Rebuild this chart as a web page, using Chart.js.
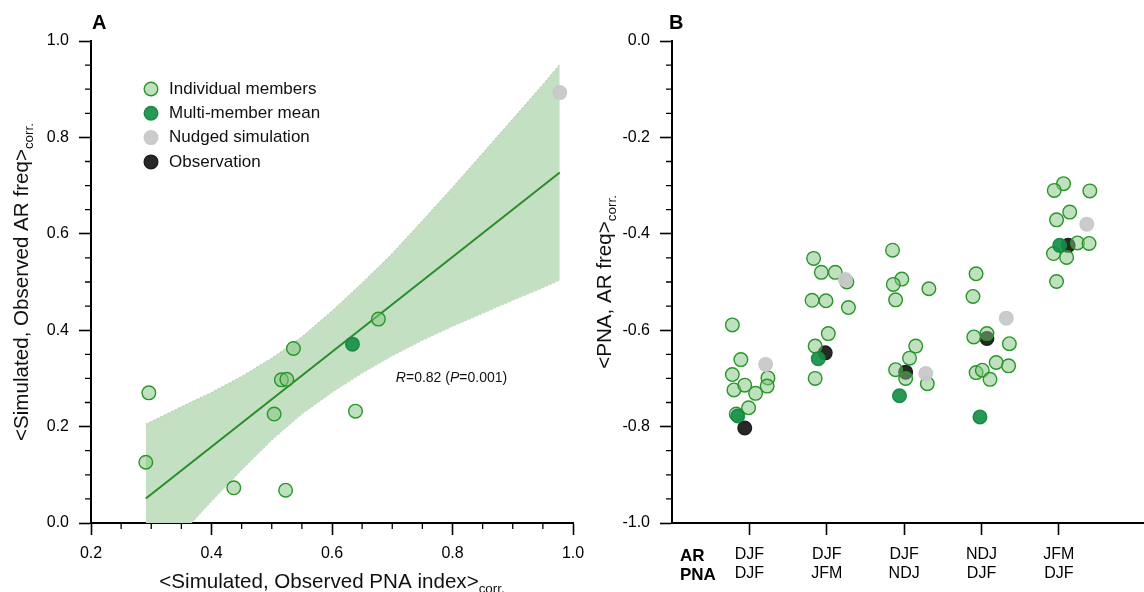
<!DOCTYPE html>
<html lang="en">
<head>
<meta charset="UTF-8">
<title>AR frequency vs PNA correlation</title>
<script src="https://cdn.jsdelivr.net/npm/chart.js"></script>
<style>
    body { margin: 0; background: #fff; }
    #wrap { position: relative; width: 1144px; height: 592px; }
    canvas { position: absolute; top: 0; }
    #chartA { left: 0; }
    #chartB { left: 586px; }
</style>
</head>
<body>
<div id="wrap">
    <canvas id="chartA" width="600" height="592"></canvas>
    <canvas id="chartB" width="558" height="592"></canvas>
</div>
<script>
// ---------- Panel A: <sim, obs PNA> vs <sim, obs AR freq> ----------
const memberPNA = [0.296, 0.291, 0.437, 0.523, 0.504, 0.516, 0.525, 0.536, 0.639, 0.677];
const memberAR  = [0.270, 0.126, 0.073, 0.068, 0.226, 0.297, 0.298, 0.362, 0.232, 0.423];
const meanPNA   = [0.634];
const meanAR    = [0.371];
const nudgedPNA = [0.978];
const nudgedAR  = [0.893];

// regression line and its confidence band
const fitX = [0.291, 0.978];
const fitY = [0.051, 0.727];
const bandX     = [0.291, 0.35, 0.40, 0.45, 0.50, 0.55, 0.60, 0.65, 0.70, 0.75, 0.80, 0.85, 0.90, 0.95, 0.978];
const bandUpper = [0.205, 0.241, 0.271, 0.304, 0.342, 0.386, 0.440, 0.498, 0.559, 0.627, 0.696, 0.767, 0.838, 0.910, 0.951];
const bandLower = [-0.105, -0.023, 0.045, 0.110, 0.172, 0.226, 0.271, 0.311, 0.347, 0.379, 0.408, 0.435, 0.462, 0.488, 0.504];

// ---------- Panel B: <PNA, AR freq> by season pairing ----------
const arSeasons  = ['DJF', 'DJF', 'DJF', 'NDJ', 'JFM'];
const pnaSeasons = ['DJF', 'JFM', 'NDJ', 'DJF', 'DJF'];

// x = category index plus jitter
const memberX = [
    -0.22, -0.11, -0.22, -0.20, -0.06, 0.08, -0.01, 0.24, 0.23, -0.17,
    0.83, 0.93, 1.11, 1.26, 0.81, 0.99, 1.28, 1.02, 0.85, 0.85,
    1.85, 1.97, 1.86, 2.32, 1.89, 2.15, 2.07, 1.89, 2.02, 2.30,
    2.93, 2.89, 2.90, 3.07, 3.36, 3.19, 3.35, 2.93, 3.01, 3.11,
    4.06, 3.94, 4.40, 4.14, 3.97, 4.24, 4.39, 3.93, 4.10, 3.97
];
const memberY = [
    -0.589, -0.661, -0.692, -0.724, -0.714, -0.731, -0.761, -0.699, -0.716, -0.774,
    -0.451, -0.480, -0.480, -0.500, -0.538, -0.539, -0.553, -0.607, -0.633, -0.700,
    -0.434, -0.494, -0.505, -0.514, -0.537, -0.633, -0.658, -0.682, -0.700, -0.711,
    -0.483, -0.530, -0.614, -0.607, -0.628, -0.667, -0.674, -0.688, -0.683, -0.702,
    -0.296, -0.310, -0.311, -0.355, -0.371, -0.419, -0.420, -0.441, -0.449, -0.499
];
const meanX   = [-0.15, 0.89, 1.94, 2.98, 4.01];
const meanY   = [-0.778, -0.659, -0.736, -0.780, -0.424];
const obsX    = [-0.06, 0.98, 2.02, 3.07, 4.12];
const obsY    = [-0.803, -0.647, -0.687, -0.617, -0.424];
const nudgedX = [0.21, 1.24, 2.28, 3.32, 4.36];
const nudgedY = [-0.671, -0.495, -0.690, -0.575, -0.380];

const FONT = "'Liberation Sans', Arial, Helvetica, sans-serif";
Chart.defaults.font.family = FONT;
Chart.defaults.color = '#000';
Chart.defaults.animation = false;

const styles = {
    member: { backgroundColor: 'rgba(130, 196, 128, 0.5)', borderColor: 'rgb(40, 150, 40)' },
    mean:   { backgroundColor: 'rgba(22, 143, 72, 0.92)', borderColor: 'rgba(20, 132, 66, 0.92)' },
    nudged: { backgroundColor: 'rgba(200, 200, 200, 0.95)', borderColor: 'rgba(200, 200, 200, 0.95)' },
    obs:    { backgroundColor: 'rgb(40, 40, 40)', borderColor: 'rgb(30, 30, 30)' }
};
const legendItems = [
    ['Individual members', styles.member],
    ['Multi-member mean', styles.mean],
    ['Nudged simulation', styles.nudged],
    ['Observation', styles.obs]
];

function pts(xs, ys) {
    return xs.map((x, i) => ({ x: x, y: ys[i] }));
}

function pointSet(label, xs, ys, style, order) {
    return {
        label: label,
        data: pts(xs, ys),
        backgroundColor: style.backgroundColor,
        borderColor: style.borderColor,
        borderWidth: 1.4,
        pointRadius: 6.8,
        pointHoverRadius: 6.8,
        order: order
    };
}

function minorValues(min, max, step, every) {
    const out = [];
    for (let k = 0; min + k * step <= max + 1e-9; k++) {
        if (k % every) out.push(+(min + k * step).toFixed(3));
    }
    return out;
}

function axisGrid() {
    return { drawOnChartArea: false, tickLength: 12, tickWidth: 1.6, tickColor: '#000' };
}

// small outward minor ticks
const minorTicks = {
    id: 'minorTicks',
    afterDraw(chart, args, opts) {
        const { ctx, chartArea: a, scales } = chart;
        ctx.save();
        ctx.strokeStyle = '#000';
        ctx.lineWidth = 1.3;
        ctx.beginPath();
        (opts.y || []).forEach(v => {
            const y = scales.y.getPixelForValue(v);
            ctx.moveTo(a.left, y);
            ctx.lineTo(a.left - 6, y);
        });
        (opts.x || []).forEach(v => {
            const x = scales.x.getPixelForValue(v);
            ctx.moveTo(x, a.bottom);
            ctx.lineTo(x, a.bottom + 6);
        });
        ctx.stroke();
        ctx.restore();
    }
};

// title with subscript "corr."
function subTitle(ctx, main, sub, x, y, angle) {
    ctx.save();
    ctx.translate(x, y);
    ctx.rotate(angle);
    ctx.fillStyle = '#111';
    ctx.textBaseline = 'alphabetic';
    ctx.textAlign = 'left';
    ctx.font = '20.6px ' + FONT;
    const w1 = ctx.measureText(main).width;
    ctx.font = '13.4px ' + FONT;
    const w2 = ctx.measureText(sub).width;
    const x0 = -(w1 + w2) / 2;
    ctx.font = '20.6px ' + FONT;
    ctx.fillText(main, x0, 0);
    ctx.font = '13.4px ' + FONT;
    ctx.fillText(sub, x0 + w1, 5);
    ctx.restore();
}

// mixed-style text runs: [text, italic?]
function runs(ctx, parts, x, y, size) {
    let cx = x;
    parts.forEach(([t, it]) => {
        ctx.font = (it ? 'italic ' : '') + size + 'px ' + FONT;
        ctx.fillText(t, cx, y);
        cx += ctx.measureText(t).width;
    });
}

const annotate = {
    id: 'annotate',
    afterDraw(chart, args, o) {
        const { ctx, chartArea: a, scales } = chart;
        ctx.save();
        ctx.fillStyle = '#000';
        ctx.textAlign = 'left';
        ctx.textBaseline = 'alphabetic';
        ctx.font = 'bold 20px ' + FONT;
        ctx.fillText(o.letter, a.left + o.letterDx, 29);

        if (o.xTitle) subTitle(ctx, o.xTitle, 'corr.', (a.left + a.right) / 2, 588, 0);
        if (o.yTitle) subTitle(ctx, o.yTitle, 'corr.', o.yTitleX, (a.top + a.bottom) / 2, -Math.PI / 2);

        if (o.stat) {
            ctx.fillStyle = '#111';
            runs(ctx, o.stat.parts, scales.x.getPixelForValue(o.stat.x), scales.y.getPixelForValue(o.stat.y), 14);
        }
        if (o.rowNames) {
            ctx.fillStyle = '#000';
            ctx.font = 'bold 17px ' + FONT;
            o.rowNames.forEach((t, i) => ctx.fillText(t, a.left + 8, a.bottom + 38 + i * 19));
        }
        if (o.legend) {
            ctx.font = '17px ' + FONT;
            ctx.textBaseline = 'middle';
            o.legend.forEach(([label, st], i) => {
                const cx = a.left + 60, cy = a.top + 48 + i * 24.3;
                ctx.beginPath();
                ctx.arc(cx, cy, 6.8, 0, Math.PI * 2);
                ctx.fillStyle = st.backgroundColor;
                ctx.fill();
                ctx.lineWidth = 1.4;
                ctx.strokeStyle = st.borderColor;
                ctx.stroke();
                ctx.fillStyle = '#111';
                ctx.fillText(label, cx + 18, cy);
            });
        }
        ctx.restore();
    }
};

// ---------- Chart A ----------
new Chart(document.getElementById('chartA'), {
    type: 'scatter',
    data: {
        datasets: [
            {
                type: 'line', label: 'CI upper', data: pts(bandX, bandUpper),
                fill: '+1', backgroundColor: 'rgb(196, 224, 194)',
                borderColor: 'rgba(140, 150, 140, 0.7)', borderWidth: 0.8, borderDash: [2, 2],
                pointRadius: 0, tension: 0, order: 6
            },
            {
                type: 'line', label: 'CI lower', data: pts(bandX, bandLower),
                fill: false, borderColor: 'rgba(140, 150, 140, 0.7)', borderWidth: 0.8, borderDash: [2, 2],
                pointRadius: 0, tension: 0, order: 6
            },
            {
                type: 'line', label: 'Fit', data: pts(fitX, fitY),
                fill: false, borderColor: 'rgb(40, 140, 40)', borderWidth: 2,
                pointRadius: 0, order: 5
            },
            pointSet('Individual members', memberPNA, memberAR, styles.member, 3),
            pointSet('Multi-member mean', meanPNA, meanAR, styles.mean, 2),
            pointSet('Nudged simulation', nudgedPNA, nudgedAR, styles.nudged, 1)
        ]
    },
    options: {
        responsive: false,
        layout: { autoPadding: false, padding: { top: 41, right: 27, left: 0, bottom: 0 } },
        scales: {
            x: {
                type: 'linear', min: 0.2, max: 1.0,
                ticks: { stepSize: 0.2, padding: 9, maxRotation: 0, font: { size: 16 }, callback: v => v.toFixed(1) },
                grid: axisGrid(),
                border: { color: '#000', width: 2 },
                afterFit: s => { s.height = 69; }
            },
            y: {
                type: 'linear', min: 0, max: 1,
                ticks: { stepSize: 0.2, padding: 10, font: { size: 16 }, callback: v => v.toFixed(1) },
                grid: axisGrid(),
                border: { color: '#000', width: 2 },
                afterFit: s => { s.width = 91; }
            }
        },
        plugins: {
            legend: { display: false },
            tooltip: { enabled: false },
            minorTicks: { x: minorValues(0.2, 1.0, 0.05, 4), y: minorValues(0, 1, 0.05, 4) },
            annotate: {
                letter: 'A', letterDx: 1,
                xTitle: '<Simulated, Observed PNA index>',
                yTitle: '<Simulated, Observed AR freq>',
                yTitleX: 28,
                stat: { x: 0.706, y: 0.293, parts: [['R', true], ['=0.82 (', false], ['P', true], ['=0.001)', false]] },
                legend: legendItems
            }
        }
    },
    plugins: [minorTicks, annotate]
});

// ---------- Chart B ----------
new Chart(document.getElementById('chartB'), {
    type: 'scatter',
    data: {
        datasets: [
            pointSet('Observation', obsX, obsY, styles.obs, 3),
            pointSet('Individual members', memberX, memberY, styles.member, 2),
            pointSet('Multi-member mean', meanX, meanY, styles.mean, 1),
            pointSet('Nudged simulation', nudgedX, nudgedY, styles.nudged, 0)
        ]
    },
    options: {
        responsive: false,
        layout: { autoPadding: false, padding: { top: 41, right: 0, left: 0, bottom: 0 } },
        scales: {
            x: {
                type: 'linear', min: -1, max: 5.1,
                afterBuildTicks: s => { s.ticks = arSeasons.map((_, i) => ({ value: i })); },
                ticks: {
                    autoSkip: false, maxRotation: 0, padding: 10, font: { size: 16 },
                    callback: v => [arSeasons[v], pnaSeasons[v]]
                },
                grid: axisGrid(),
                border: { color: '#000', width: 2 },
                afterFit: s => { s.height = 69; }
            },
            y: {
                type: 'linear', min: -1, max: 0,
                ticks: { stepSize: 0.2, padding: 10, font: { size: 16 }, callback: v => v.toFixed(1) },
                grid: axisGrid(),
                border: { color: '#000', width: 2 },
                afterFit: s => { s.width = 86; }
            }
        },
        plugins: {
            legend: { display: false },
            tooltip: { enabled: false },
            minorTicks: { y: minorValues(-1, 0, 0.05, 4) },
            annotate: {
                letter: 'B', letterDx: -3,
                xTitle: '',
                yTitle: '<PNA, AR freq>',
                yTitleX: 25,
                rowNames: ['AR', 'PNA']
            }
        }
    },
    plugins: [minorTicks, annotate]
});
</script>
</body>
</html>
